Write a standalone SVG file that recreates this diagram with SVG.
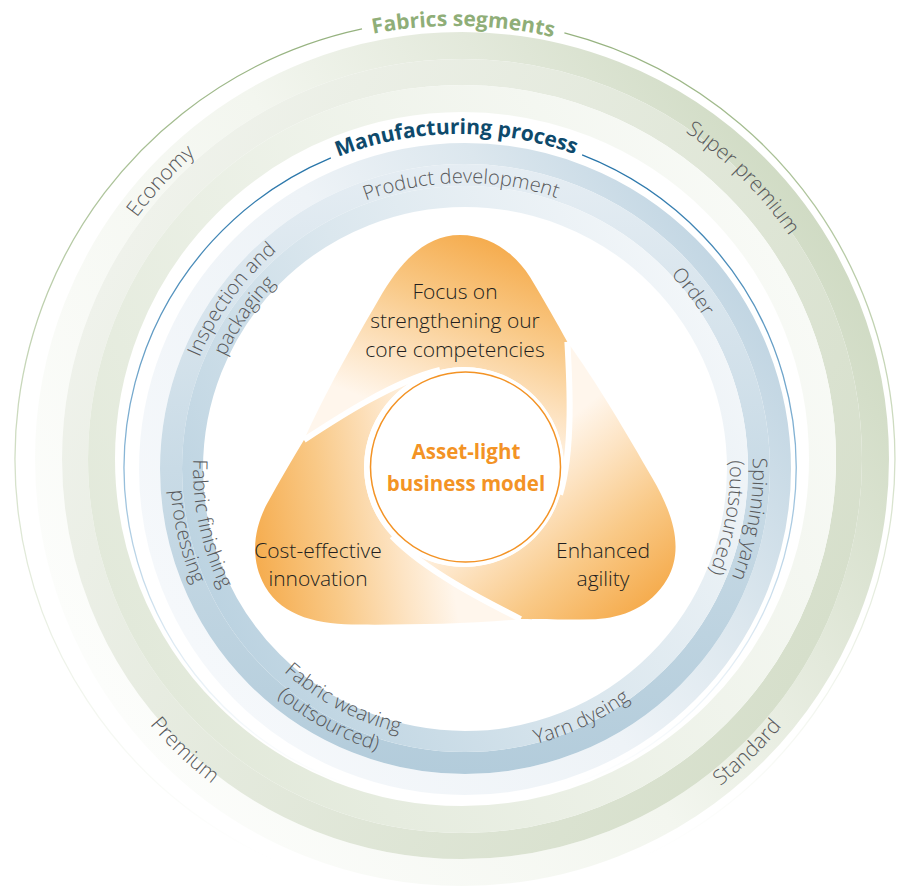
<svg xmlns="http://www.w3.org/2000/svg" width="897" height="891" viewBox="0 0 897 891">
<style>
.lbl{font-family:"Open Sans","Liberation Sans",sans-serif;font-weight:300;font-size:20px;fill:#58595b}
.glbl{font-family:"Open Sans","Liberation Sans",sans-serif;font-weight:300;font-size:21px;fill:#58595b}
.body{font-family:"Open Sans","Liberation Sans",sans-serif;font-weight:300;font-size:21px;fill:#231f20;text-anchor:middle}
.core{font-family:"Open Sans","Liberation Sans",sans-serif;font-weight:700;font-size:20.5px;fill:#f39325;text-anchor:middle}
.ttl{font-family:"Open Sans","Liberation Sans",sans-serif;font-weight:700;font-size:21px}
</style>
<defs>
<linearGradient id="gOut" gradientUnits="userSpaceOnUse" x1="92.2" y1="672.5" x2="831.8" y2="245.5"><stop offset="0" stop-color="#fcfdfb"/><stop offset="0.5" stop-color="#f3f6ef"/><stop offset="0.75" stop-color="#e3e9db"/><stop offset="1" stop-color="#d0dbc4"/></linearGradient>
<linearGradient id="gMid" gradientUnits="userSpaceOnUse" x1="115.6" y1="259" x2="808.4" y2="659"><stop offset="0" stop-color="#eff2eb"/><stop offset="1" stop-color="#d6dfcb"/></linearGradient>
<linearGradient id="gIn" gradientUnits="userSpaceOnUse" x1="785.9" y1="272" x2="138.1" y2="646"><stop offset="0" stop-color="#f8faf6"/><stop offset="1" stop-color="#e2e9da"/></linearGradient>
<linearGradient id="bOut" gradientUnits="userSpaceOnUse" x1="182.7" y1="632" x2="747.3" y2="306"><stop offset="0" stop-color="#f5f8fb"/><stop offset="0.5" stop-color="#eef3f7"/><stop offset="0.75" stop-color="#dce7ee"/><stop offset="1" stop-color="#c2d6e3"/></linearGradient>
<linearGradient id="bMid" gradientUnits="userSpaceOnUse" x1="465" y1="164" x2="465" y2="774"><stop offset="0" stop-color="#e5edf3"/><stop offset="0.5" stop-color="#c9dbe6"/><stop offset="1" stop-color="#b3ccdb"/></linearGradient>
<linearGradient id="bIn" gradientUnits="userSpaceOnUse" x1="710.1" y1="327.5" x2="219.9" y2="610.5"><stop offset="0" stop-color="#f2f6f9"/><stop offset="0.5" stop-color="#dbe7ee"/><stop offset="1" stop-color="#bcd3e1"/></linearGradient>
<linearGradient id="lineG" gradientUnits="userSpaceOnUse" x1="0" y1="20" x2="0" y2="860"><stop offset="0" stop-color="#93b07c"/><stop offset="0.5" stop-color="#c3d4b3" stop-opacity="0.8"/><stop offset="1" stop-color="#dfe8d6" stop-opacity="0"/></linearGradient>
<linearGradient id="lineB" gradientUnits="userSpaceOnUse" x1="0" y1="140" x2="0" y2="790"><stop offset="0" stop-color="#1f6fa5"/><stop offset="0.5" stop-color="#7fb0d3" stop-opacity="0.9"/><stop offset="1" stop-color="#cfe0ec" stop-opacity="0"/></linearGradient>
<linearGradient id="og" gradientUnits="userSpaceOnUse" x1="20" y1="-232" x2="-50" y2="-50"><stop offset="0" stop-color="#f5ab4c"/><stop offset="0.4" stop-color="#f9c987"/><stop offset="0.75" stop-color="#fde4c4"/><stop offset="1" stop-color="#fff6ec"/></linearGradient>
<path id="petal" d="M-160,-27 C-140,-72 -110,-125 -85,-168 C-65,-203 -40,-232 -4,-232 C28,-232 52,-212 66,-190 C80,-167 94,-142 103.4,-125.1 C105.57,-86.85 109.48,-17.62 96,27.72 A100,100 0 0 0 -24,-97 C-70,-86 -128,-48 -160,-27 Z"/>
<path id="swirl" d="M-160,-27 C-128,-48 -70,-86 -24,-97"/>
<path id="pgT" d="M84.2,235.4 A433,433 0 0 1 834.1,249.7"/>
<path id="pbT" d="M168.9,304.2 A334,334 0 0 1 747.3,297.7"/>
<path id="pg1" d="M102.1,644.7 A405,405 0 0 1 618.3,85.4"/>
<path id="pg2" d="M294.6,100.1 A396,396 0 0 1 820.9,626.4"/>
<path id="pg3" d="M280.5,834.4 A417,417 0 0 0 842.3,288.1"/>
<path id="pg4" d="M86.3,294.9 A410,410 0 0 0 644.3,826.2"/>
<path id="pb1" d="M194.9,374.9 A286,286 0 0 1 732.4,367.4"/>
<path id="pb2" d="M378,199.7 A283,283 0 0 1 704.7,619.4"/>
<path id="pb3" d="M609,219.6 A288,288 0 0 1 515,752.6"/>
<path id="pb4" d="M599.5,240.7 A265,265 0 0 1 508.7,730.4"/>
<path id="pb5" d="M226.2,630 A288,288 0 0 1 544.4,192.1"/>
<path id="pb6" d="M248.5,621.7 A265,265 0 0 1 532.7,212.8"/>
<path id="pb7" d="M320.5,238.6 A272,272 0 0 0 427.6,738.4"/>
<path id="pb8" d="M301.7,223.3 A295,295 0 0 0 432.1,762.2"/>
<path id="pb9" d="M195.6,431.6 A272,272 0 0 0 647.3,670.8"/>
<path id="pb10" d="M173.2,425.4 A295,295 0 0 0 660.5,690"/>
<path id="pb11" d="M264.2,669.8 A284,284 0 0 0 747.9,444.2"/>
</defs>
<rect width="897" height="891" fill="#ffffff"/>

<g id="fabrics-segments">
<circle cx="462" cy="459" r="413.5" fill="none" stroke="url(#gOut)" stroke-width="27"/>
<circle cx="462" cy="459" r="387" fill="none" stroke="url(#gMid)" stroke-width="26"/>
<circle cx="462" cy="459" r="360.5" fill="none" stroke="url(#gIn)" stroke-width="27"/>
<path d="M564.4,32.8 A440,440 0 1 1 362,28.9" fill="none" stroke="url(#lineG)" stroke-width="1.3"/>
<text class="ttl" fill="#8fae78"><textPath href="#pgT" startOffset="50%" text-anchor="middle">Fabrics segments</textPath></text>
<text class="glbl"><textPath href="#pg1" startOffset="50%" text-anchor="middle">Economy</textPath></text>
<text class="glbl"><textPath href="#pg2" startOffset="50%" text-anchor="middle">Super premium</textPath></text>
<text class="glbl"><textPath href="#pg3" startOffset="50%" text-anchor="middle">Standard</textPath></text>
<text class="glbl"><textPath href="#pg4" startOffset="50%" text-anchor="middle">Premium</textPath></text>
</g>

<g id="manufacturing-process">
<circle cx="465" cy="469" r="315.5" fill="none" stroke="url(#bOut)" stroke-width="21"/>
<circle cx="465" cy="469" r="294" fill="none" stroke="url(#bMid)" stroke-width="22"/>
<circle cx="465" cy="469" r="272.5" fill="none" stroke="url(#bIn)" stroke-width="21"/>
<path d="M582.1,154.9 A336,336 0 1 1 330.9,157.8" fill="none" stroke="url(#lineB)" stroke-width="1.3"/>
<text class="ttl" fill="#0e4a6c"><textPath href="#pbT" startOffset="50%" text-anchor="middle">Manufacturing process</textPath></text>
<text class="lbl"><textPath href="#pb1" startOffset="50%" text-anchor="middle">Product development</textPath></text>
<text class="lbl"><textPath href="#pb2" startOffset="50%" text-anchor="middle">Order</textPath></text>
<text class="lbl"><textPath href="#pb3" startOffset="50%" text-anchor="middle">Spinning yarn</textPath></text>
<text class="lbl"><textPath href="#pb4" startOffset="50%" text-anchor="middle">(outsourced)</textPath></text>
<text class="lbl"><textPath href="#pb5" startOffset="50%" text-anchor="middle">Inspection and</textPath></text>
<text class="lbl"><textPath href="#pb6" startOffset="50%" text-anchor="middle">packaging</textPath></text>
<text class="lbl"><textPath href="#pb7" startOffset="50%" text-anchor="middle">Fabric finishing</textPath></text>
<text class="lbl"><textPath href="#pb8" startOffset="50%" text-anchor="middle">processing</textPath></text>
<text class="lbl"><textPath href="#pb9" startOffset="50%" text-anchor="middle">Fabric weaving</textPath></text>
<text class="lbl"><textPath href="#pb10" startOffset="50%" text-anchor="middle">(outsourced)</textPath></text>
<text class="lbl"><textPath href="#pb11" startOffset="50%" text-anchor="middle">Yarn dyeing</textPath></text>
</g>

<g id="petal-focus" transform="translate(464,467)"><use href="#petal" fill="url(#og)"/></g>
<g id="petal-agility" transform="translate(464,467) rotate(120)"><use href="#petal" fill="url(#og)"/></g>
<g id="petal-cost" transform="translate(464,467) rotate(240)"><use href="#petal" fill="url(#og)"/></g>
<g id="connectors" transform="translate(464,467)" fill="none" stroke="#ffffff" stroke-width="6">
<use href="#swirl"/>
<use href="#swirl" transform="rotate(120)"/>
<use href="#swirl" transform="rotate(240)"/>
</g>

<g id="asset-light">
<circle cx="464" cy="467" r="100" fill="#ffffff"/>
<circle cx="465.5" cy="467" r="95" fill="#ffffff" stroke="#f39325" stroke-width="1.5"/>
<text class="core" x="466" y="459">Asset-light</text>
<text class="core" x="466" y="491">business model</text>
</g>

<g id="petal-texts">
<text class="body" x="455" y="299">Focus on</text>
<text class="body" x="455" y="328">strengthening our</text>
<text class="body" x="455" y="357">core competencies</text>
<text class="body" x="318" y="558">Cost-effective</text>
<text class="body" x="318" y="586">innovation</text>
<text class="body" x="603" y="558">Enhanced</text>
<text class="body" x="603" y="586">agility</text>
</g>
</svg>
